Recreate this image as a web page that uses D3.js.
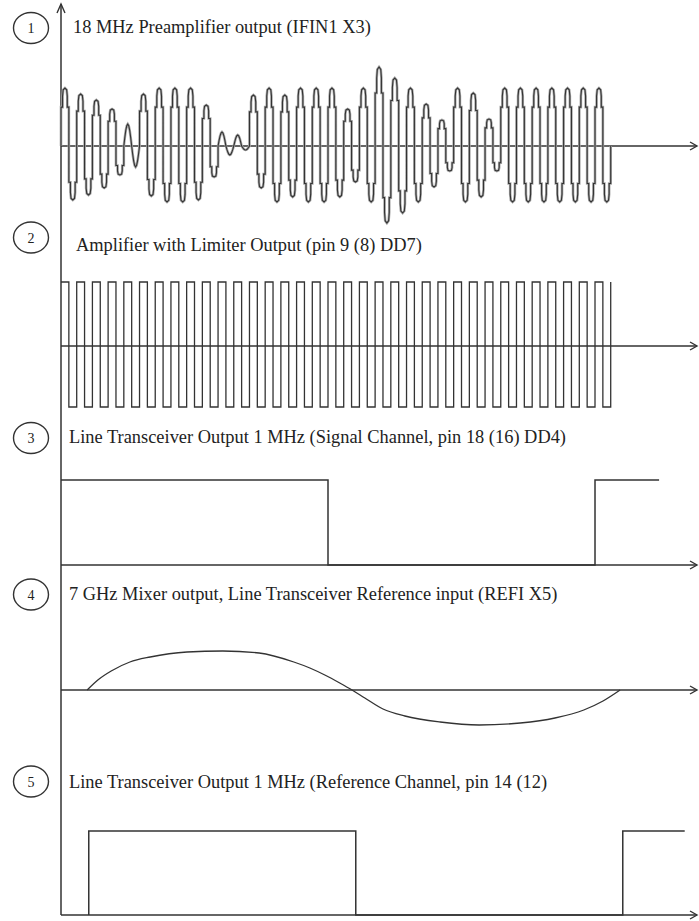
<!DOCTYPE html>
<html>
<head>
<meta charset="utf-8">
<title>Receiver timing diagram</title>
<script src="https://d3js.org/d3.v7.min.js"></script>
<style>
  body { margin: 0; background: #fff; }
  svg { display: block; }
  .lbl { font-family: "Liberation Serif", "Times New Roman", serif; font-size: 18.4px; fill: #222; }
  .num { font-family: "Liberation Serif", "Times New Roman", serif; font-size: 14px; fill: #222; }
</style>
</head>
<body>
<svg id="chart"></svg>
<script>
// time axis in microseconds (one 1 MHz period = 1 us)
const traceNumbers = ["1", "2", "3", "4", "5"];
const traceLabels = [
  "18 MHz Preamplifier output (IFIN1 X3)",
  "Amplifier with Limiter Output (pin 9 (8) DD7)",
  "Line Transceiver Output 1 MHz (Signal Channel, pin 18 (16) DD4)",
  "7 GHz Mixer output, Line Transceiver Reference input (REFI X5)",
  "Line Transceiver Output 1 MHz (Reference Channel, pin 14 (12)"
];

// trace 1: peak of every positive / negative half-cycle (arbitrary units)
const carrierPeriod = 1 / 34;
const carrierPos = [58, 52, 46, 37, 22, 52, 58, 58, 58, 41, 14, 11, 51, 58, 51, 58, 58, 58,
                    37, 58, 79, 68, 58, 42, 26, 58, 53, 27, 58, 58, 58, 58, 58, 58, 58];
const carrierNeg = [54, 49, 42, 29, 21, 50, 56, 56, 54, 31, 9, 4, 42, 56, 51, 56, 56, 51,
                    36, 56, 77, 67, 56, 41, 25, 56, 51, 25, 56, 56, 56, 56, 56, 56, 56];

// trace 3 and 5: logic levels [time, level]
const signalSteps = [[0, 1], [0.5, 0], [1.0, 1], [1.12, 1]];
const referenceSteps = [[0.052, 0], [0.052, 1], [0.552, 0], [1.052, 1], [1.168, 1]];

// trace 4: mixer output [time, value]
const mixerTimes  = [0.049, 0.069, 0.094, 0.129, 0.167, 0.236, 0.303, 0.371, 0.436, 0.466,
                     0.494, 0.522, 0.545, 0.569, 0.603, 0.644, 0.710, 0.783, 0.860, 0.925,
                     0.979, 1.015, 1.047];
const mixerValues = [0, 10, 19, 28, 33, 38, 39, 37, 28, 22,
                     15, 7, 0, -8, -19, -26, -32, -35, -33, -28,
                     -20, -11, 0];

const width = 699, height = 921;
const axisX = 61, axisRight = 697, axisTop = 4;

const svg = d3.select("#chart").attr("width", width).attr("height", height);

const x = d3.scaleLinear().domain([0, 1.191]).range([axisX, axisRight]);

// one vertical scale per trace
const y1 = d3.scaleLinear().domain([-80, 80]).range([226, 66]);
const y2 = d3.scaleLinear().domain([-1, 0, 1]).range([407, 346, 282]);
const y3 = d3.scaleLinear().domain([0, 1]).range([565, 480]);
const y4 = d3.scaleLinear().domain([-40, 40]).range([730, 650]);
const y5 = d3.scaleLinear().domain([0, 1]).range([915, 831]);
const scales = [y1, y2, y3, y4, y5];

const circleY = [28, 237.5, 438, 594.5, 781.5];
const labelX = [73, 76, 69, 69, 69];
const labelY = [33, 251, 443, 600, 788];

const ink = "#333";

// baselines with arrows
scales.forEach(s => {
  const by = s(0);
  svg.append("line")
    .attr("x1", axisX).attr("x2", axisRight)
    .attr("y1", by).attr("y2", by)
    .attr("stroke", ink).attr("stroke-width", 1.5);
  svg.append("path")
    .attr("d", `M${axisRight - 7},${by - 4}L${axisRight},${by}L${axisRight - 7},${by + 4}`)
    .attr("fill", "none").attr("stroke", ink).attr("stroke-width", 1.4);
});

// vertical axis
svg.append("line")
  .attr("x1", axisX).attr("x2", axisX)
  .attr("y1", y5(0)).attr("y2", axisTop)
  .attr("stroke", ink).attr("stroke-width", 1.5);
svg.append("path")
  .attr("d", `M${axisX - 4},${axisTop + 9}L${axisX},${axisTop}L${axisX + 4},${axisTop + 9}`)
  .attr("fill", "none").attr("stroke", ink).attr("stroke-width", 1.4);

// numbered circles and titles
traceNumbers.forEach((n, i) => {
  svg.append("ellipse")
    .attr("cx", 31).attr("cy", circleY[i])
    .attr("rx", 17.5).attr("ry", 15.5)
    .attr("fill", "none").attr("stroke", ink).attr("stroke-width", 1.4);
  svg.append("text").attr("class", "num")
    .attr("x", 31).attr("y", circleY[i] + 5)
    .attr("text-anchor", "middle")
    .text(n);
  svg.append("text").attr("class", "lbl")
    .attr("x", labelX[i]).attr("y", labelY[i])
    .text(traceLabels[i]);
});

// trace 1: distorted carrier, each half-cycle is a narrow finger with a rounded tip
const finger = [[0, 0], [0, 0.67], [0.2, 0.67], [0.2, 0.86], [0.28, 0.97], [0.5, 1],
                [0.72, 0.97], [0.8, 0.86], [0.8, 0.67], [1, 0.67], [1, 0]];
const half = carrierPeriod / 2;
const carrierPts = [];
carrierPos.forEach((a, i) => {
  [[a, 1], [carrierNeg[i], -1]].forEach(([amp, sg], j) => {
    const s = i * carrierPeriod + j * half;
    if (amp < 24) {
      for (let k = 0; k <= 8; k++) carrierPts.push([s + half * k / 8, sg * amp * Math.sin(Math.PI * k / 8)]);
    } else {
      finger.forEach(([f, v]) => carrierPts.push([s + f * half, sg * amp * v]));
    }
  });
});

const carrierLine = d3.line().x(d => x(d[0])).y(d => y1(d[1]));
// grey underlay gives the doubled, smeared look of the scanned trace
svg.append("path")
  .datum(carrierPts)
  .attr("d", carrierLine)
  .attr("fill", "none").attr("stroke", "#aaa").attr("stroke-width", 2.6);
svg.append("path")
  .datum(carrierPts)
  .attr("d", carrierLine)
  .attr("fill", "none").attr("stroke", ink).attr("stroke-width", 1.1);

// trace 2: limiter output, sign of each carrier half-cycle
const limiterPts = [];
carrierPos.forEach((a, i) => {
  [1, -1].forEach((sg, j) => {
    const s = i * carrierPeriod + j * half;
    limiterPts.push([s, sg], [s + half, sg]);
  });
});
limiterPts.push([carrierPos.length * carrierPeriod, 1]);

svg.append("path")
  .datum(limiterPts)
  .attr("d", d3.line().x(d => x(d[0])).y(d => y2(d[1])))
  .attr("fill", "none").attr("stroke", ink).attr("stroke-width", 1.3);

// trace 3 and 5: logic outputs
[[signalSteps, y3], [referenceSteps, y5]].forEach(([steps, ys]) => {
  svg.append("path")
    .datum(steps)
    .attr("d", d3.line().curve(d3.curveStepAfter).x(d => x(d[0])).y(d => ys(d[1])))
    .attr("fill", "none").attr("stroke", ink).attr("stroke-width", 1.5);
});

// trace 4: mixer output
svg.append("path")
  .datum(mixerTimes.map((t, i) => [t, mixerValues[i]]))
  .attr("d", d3.line().curve(d3.curveMonotoneX).x(d => x(d[0])).y(d => y4(d[1])))
  .attr("fill", "none").attr("stroke", ink).attr("stroke-width", 1.3);
</script>
</body>
</html>
